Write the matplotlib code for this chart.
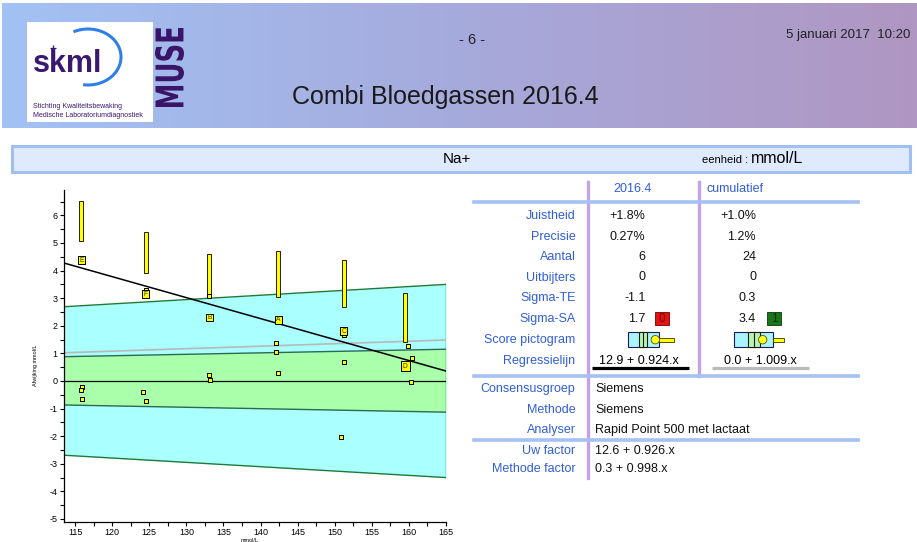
import numpy as np
import matplotlib
matplotlib.use('Agg')
import matplotlib.pyplot as plt
from matplotlib import font_manager
from matplotlib.patches import Rectangle, Circle, Arc, PathPatch
from matplotlib.textpath import TextPath
from matplotlib.font_manager import FontProperties
from matplotlib.transforms import Affine2D
from matplotlib.colors import LinearSegmentedColormap
from matplotlib.ticker import MultipleLocator

# ---- data ----
bar_x = [115.75, 124.5, 133.1, 142.4, 151.2, 159.5]
bar_lo = [5.08, 3.90, 3.10, 3.03, 2.67, 1.42]
bar_hi = [6.53, 5.41, 4.61, 4.70, 4.37, 3.18]

lab_x = [115.9, 124.5, 133.1, 142.4, 151.2, 159.5]
lab_y = [4.38, 3.15, 2.29, 2.21, 1.81, 0.54]
lab_txt = ['E', 'F', 'B', 'A', 'C', 'D']

pt_x = [115.9, 115.8, 115.9, 124.6, 124.2, 124.6, 133.0, 133.0, 133.2,
        142.1, 142.1, 142.3, 151.2, 151.2, 150.9, 159.9, 160.4, 160.3]
pt_y = [-0.22, -0.33, -0.64, 3.30, -0.40, -0.74, 3.07, 0.21, 0.02,
        1.37, 1.06, 0.28, 1.65, 0.70, -2.04, 1.27, 0.85, -0.03]

band_x = [113.5, 165]
te_hi = [2.69, 3.50]
te_lo = [-2.69, -3.50]
sa_hi = [0.88, 1.15]
sa_lo = [-0.87, -1.13]

reg_round = (12.9, 0.924)
reg_cum = (0.0, 1.009)

row_labels = ['Juistheid', 'Precisie', 'Aantal', 'Uitbijters', 'Sigma-TE',
              'Sigma-SA', 'Score pictogram', 'Regressielijn']
val_round = ['+1.8%', '0.27%', '6', '0', '-1.1', '1.7', '', '']
val_cum = ['+1.0%', '1.2%', '24', '0', '0.3', '3.4', '', '']
score_round = '0'
score_cum = '1'

info_labels = ['Consensusgroep', 'Methode', 'Analyser', 'Uw factor', 'Methode factor']
info_values = ['Siemens', 'Siemens', 'Rapid Point 500 met lactaat',
               '12.6 + 0.926.x', '0.3 + 0.998.x']

# ---- fonts ----
names = {f.name for f in font_manager.fontManager.ttflist}
narrow = 'Liberation Sans Narrow' if 'Liberation Sans Narrow' in names else 'Liberation Sans'
plt.rcParams['font.family'] = ['Liberation Sans', 'DejaVu Sans']
plt.rcParams['axes.unicode_minus'] = False

fig = plt.figure(figsize=(9.17, 5.42), dpi=100)

# background axes in pixel coordinates
bg = fig.add_axes([0, 0, 1, 1], zorder=0)
bg.set_xlim(0, 917)
bg.set_ylim(542, 0)
bg.axis('off')

# header gradient
cmap = LinearSegmentedColormap.from_list('hdr', ['#a2c2f4', '#a6aadc', '#b096c2'])
grad = np.linspace(0, 1, 256).reshape(1, -1)
bg.imshow(grad, cmap=cmap, extent=[2, 917, 128, 3], aspect='auto', zorder=0)

# logo
bg.add_patch(Rectangle((27, 22), 126, 100, facecolor='white', edgecolor='none', zorder=1))
bg.add_patch(Arc((88, 57), 66, 56, theta1=-120, theta2=100, color='#2e80e8', lw=2.2, zorder=2))
bg.text(33, 71.5, 'skml', fontsize=22, fontweight='bold', color='#3b1870',
        va='baseline', ha='left', zorder=3)
bg.plot([52.5], [48], marker='+', markersize=4, mew=0.9, color='#3b1870', zorder=3)
bg.text(33, 107, 'Stichting Kwaliteitsbewaking', fontsize=5, color='#3b1870',
        family=narrow, va='center', zorder=3)
bg.text(33, 115.5, 'Medische Laboratoriumdiagnostiek', fontsize=5, color='#3b1870',
        family=narrow, va='center', zorder=3)

# MUSE, rotated and condensed
tp = TextPath((0, 0), 'MUSE', size=1, prop=FontProperties(family='DejaVu Sans', weight='bold'))
ext = tp.get_extents()
x_right, y_bottom, box_w, box_h = 184, 107, 29, 79
sx = box_w / ext.height
sy = box_h / ext.width
tr = Affine2D.from_values(0, -sy, -sx, 0, x_right + sx * ext.y0, y_bottom + sy * ext.x0)
bg.add_patch(PathPatch(tp, transform=tr + bg.transData, facecolor='#3a1468',
                       edgecolor='none', zorder=3))

bg.text(472, 40, '- 6 -', fontsize=10.5, ha='center', va='center', color='#222222')
bg.text(910, 35, '5 januari 2017  10:20', fontsize=9.5, ha='right', va='center',
        family=narrow, color='#222222')
bg.text(445, 97, 'Combi Bloedgassen 2016.4', fontsize=18, ha='center', va='center',
        color='#1a1a1a')

# analyte band
bg.add_patch(Rectangle((12, 146), 898, 26, facecolor='#dfeafc', edgecolor='#a0c0f2',
                       lw=2.2, zorder=1))
bg.text(457, 159, 'Na+', fontsize=11, family=narrow, ha='center', va='center', zorder=2)
bg.text(702, 160, 'eenheid :', fontsize=8, family=narrow, ha='left', va='center', zorder=2)
bg.text(751, 158.5, 'mmol/L', fontsize=11.5, family=narrow, ha='left', va='center', zorder=2)

# ---- table ----
blue_txt = '#2f5ed6'
purple = '#c6a0ea'
line_blue = '#a4c2f4'
fs = 9

bg.plot([588, 588], [182, 478], color=purple, lw=2.4, zorder=1)
bg.plot([699, 699], [182, 376], color=purple, lw=2.4, zorder=1)
for yy in [201.5, 376, 440]:
    bg.plot([474, 858], [yy, yy], color=line_blue, lw=2.6, zorder=1)

bg.text(632, 189, '2016.4', fontsize=fs, color=blue_txt, ha='center', va='center')
bg.text(735, 189, 'cumulatief', fontsize=fs, color=blue_txt, ha='center', va='center')

row_y = [215.7, 236.7, 257, 277.5, 298, 318.7, 339.7, 360.7]
for lab, v1, v2, yy in zip(row_labels, val_round, val_cum, row_y):
    bg.text(575.5, yy, lab, fontsize=fs, color=blue_txt, ha='right', va='center')
    bg.text(645.5, yy, v1, fontsize=fs, color='#111111', ha='right', va='center')
    bg.text(756, yy, v2, fontsize=fs, color='#111111', ha='right', va='center')

# sigma score boxes
sig_y = row_y[5]
bg.add_patch(Rectangle((655, sig_y - 6.5), 14, 13, facecolor='#e41414', edgecolor='#700000',
                       lw=0.6, zorder=2))
bg.text(662, sig_y, score_round, fontsize=8.5, color='#7a0000', ha='center', va='center', zorder=3)
bg.add_patch(Rectangle((767, sig_y - 6.5), 14, 13, facecolor='#17761a', edgecolor='#0a3a0a',
                       lw=0.6, zorder=2))
bg.text(774, sig_y, score_cum, fontsize=8.5, color='#0a300a', ha='center', va='center', zorder=3)

# score pictograms
def pictogram(x0, w_box, g0, g1, mid, cx, bar_end, yc):
    bg.add_patch(Rectangle((x0, yc - 7.5), w_box, 15, facecolor='#aaf4fc', edgecolor='#1a1a60',
                           lw=0.8, zorder=2))
    bg.add_patch(Rectangle((g0, yc - 7.5), g1 - g0, 15, facecolor='#b8f4b0', edgecolor='#1a1a1a',
                           lw=0.8, zorder=3))
    bg.plot([mid, mid], [yc - 7.5, yc + 7.5], color='#1a1a1a', lw=0.8, zorder=4)
    bg.add_patch(Rectangle((x0 + w_box, yc - 2.2), bar_end - x0 - w_box, 4.4,
                           facecolor='#ffff00', edgecolor='#333300', lw=0.6, zorder=4))
    bg.add_patch(Circle((cx, yc), 4.2, facecolor='#ffff20', edgecolor='#555500', lw=0.6, zorder=5))

pictogram(628, 31, 639, 647, 643.3, 655.3, 674.3, row_y[6])
pictogram(734.3, 39, 747.7, 760, 753.7, 762.7, 784.3, row_y[6])

bg.text(639, row_y[7], '%.1f + %.3f.x' % reg_round, fontsize=fs, ha='center', va='center')
bg.text(760.5, row_y[7], '%.1f + %.3f.x' % reg_cum, fontsize=fs, ha='center', va='center')
bg.plot([592, 689], [367.5, 367.5], color='black', lw=2.3, solid_capstyle='butt')
bg.plot([712, 809], [367.5, 367.5], color='#bbbbbb', lw=2.3, solid_capstyle='butt')

info_y = [389.3, 409.7, 430.3, 451.3, 469.3]
for lab, val, yy in zip(info_labels, info_values, info_y):
    bg.text(575.5, yy, lab, fontsize=fs, color=blue_txt, ha='right', va='center')
    bg.text(595, yy, val, fontsize=fs, color='#111111', ha='left', va='center')

# ---- chart ----
ax = fig.add_axes([64 / 917, 20 / 542, 382 / 917, 332 / 542], zorder=1)
ax.set_facecolor('none')
ax.set_xlim(113.5, 165)
ax.set_ylim(-5.11, 6.92)

edge_green = '#1f7a3a'
ax.fill_between(band_x, te_lo, te_hi, color='#aaffff', lw=0, zorder=1)
ax.fill_between(band_x, sa_lo, sa_hi, color='#aaffaa', lw=0, zorder=1)
for edge in [te_hi, te_lo]:
    ax.plot(band_x, edge, color=edge_green, lw=1, zorder=2)
for edge in [sa_hi, sa_lo]:
    ax.plot(band_x, edge, color='#2a6a50', lw=1, zorder=2)
ax.plot([band_x[1], band_x[1]], [te_lo[1], te_hi[1]], color=edge_green, lw=1, zorder=2)

ax.axhline(0, color='black', lw=0.9, zorder=2)
xs = np.array(band_x)
ax.plot(xs, reg_cum[0] + (reg_cum[1] - 1) * xs, color='#b8b8b8', lw=1.2, zorder=2)
ax.plot(xs, reg_round[0] + (reg_round[1] - 1) * xs, color='black', lw=1.1, zorder=3)

ax.bar(bar_x, np.array(bar_hi) - np.array(bar_lo), bottom=bar_lo, width=0.55,
       color='#ffff00', edgecolor='#202000', lw=0.7, zorder=4)
ax.scatter(pt_x, pt_y, marker='s', s=12, facecolor='#ffff00', edgecolor='black',
           linewidths=0.7, zorder=5)
lab_sizes = [28] * (len(lab_txt) - 1) + [44]
ax.scatter(lab_x, lab_y, marker='s', s=lab_sizes, facecolor='#ffff00', edgecolor='black',
           linewidths=0.7, zorder=6)
for x, y, t in zip(lab_x, lab_y, lab_txt):
    ax.text(x, y, t, fontsize=4.8, ha='center', va='center', color='#333300', zorder=7)

for s in ['top', 'right']:
    ax.spines[s].set_visible(False)
for s in ['left', 'bottom']:
    ax.spines[s].set_linewidth(0.9)
ax.xaxis.set_major_locator(MultipleLocator(5))
ax.xaxis.set_minor_locator(MultipleLocator(2.5))
ax.yaxis.set_major_locator(MultipleLocator(1))
ax.yaxis.set_minor_locator(MultipleLocator(0.5))
ax.tick_params(which='both', direction='out', length=3, width=0.8, labelsize=6.5, pad=1.5)

bg.text(35, 365, 'Afwijking mmol/L', fontsize=4, rotation=90, ha='center', va='center')
bg.text(250, 540, 'mmol/L', fontsize=4, ha='center', va='center')

fig.savefig('out.png', dpi=100)
